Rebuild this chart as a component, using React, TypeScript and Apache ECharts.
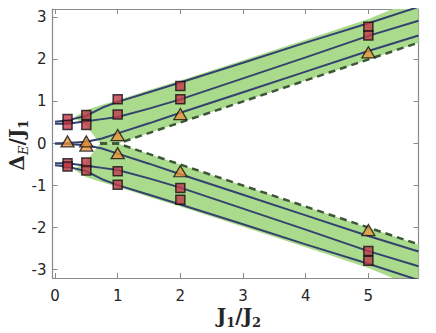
import React, { useEffect, useRef } from "react";
import * as echarts from "echarts";

// ---- data ----
const xTicks = [0, 1, 2, 3, 4, 5];
const yTicks = [-3, -2, -1, 0, 1, 2, 3];

const lineX = [0, 0.2, 0.5, 0.75, 1, 1.5, 2, 3, 4, 5, 5.8];
const lineA = [0.52, 0.55, 0.66, 0.85, 0.99, 1.22, 1.45, 1.92, 2.4, 2.86, 3.25];
const lineB = [0.47, 0.47, 0.53, 0.58, 0.63, 0.83, 1.05, 1.55, 2.05, 2.56, 2.92];
const lineC = [0, 0.01, 0.04, 0.12, 0.24, 0.48, 0.73, 1.22, 1.71, 2.2, 2.57];

const dashX = [0.72, 1, 5.8];
const dashY = [0, 0, 2.4];

const bandX = [0.3, 0.5, 0.75, 1, 1.5, 2, 3, 4, 5, 5.39, 5.8, 5.8, 1, 0.72, 0.5];
const bandY = [0.62, 0.8, 0.92, 1.03, 1.27, 1.5, 1.98, 2.47, 2.96, 3.2, 3.2, 2.4, 0, 0, 0.42];

const sqX = [0.2, 0.2, 0.5, 0.5, 1, 1, 2, 2, 5, 5, 0.2, 0.2, 0.5, 0.5, 1, 1, 2, 2, 5, 5];
const sqY = [0.58, 0.44, 0.68, 0.44, 1.05, 0.69, 1.37, 1.05, 2.78, 2.57,
  -0.47, -0.55, -0.45, -0.64, -0.66, -0.98, -1.06, -1.34, -2.56, -2.79];

const triX = [0.2, 0.5, 0.5, 1, 1, 2, 2, 5, 5];
const triY = [0.05, -0.05, 0.05, 0.2, -0.23, 0.7, -0.66, 2.17, -2.06];

const pairs = (xs: number[], ys: number[], sign = 1) => xs.map((x, i) => [x, sign * ys[i]]);

const LINE_COLOR = "#34426f";
const DASH_COLOR = "#3e5638";
const BAND_COLOR = "#aadb8c";
const AXIS_COLOR = "#8a8a8a";
const TEXT_COLOR = "#262626";

export default function App() {
  const ref = useRef<HTMLDivElement>(null);
  useEffect(() => {
    if (!ref.current) return;
    const chart = echarts.init(ref.current, undefined, { renderer: "svg" });

    const bands = [pairs(bandX, bandY, 1), pairs(bandX, bandY, -1)];

    const solid = (data: number[][]) => ({
      type: "line",
      data,
      showSymbol: false,
      symbol: "none",
      smooth: false,
      lineStyle: { color: LINE_COLOR, width: 2 },
      z: 3,
    });
    const dashed = (data: number[][]) => ({
      type: "line",
      data,
      symbol: "none",
      lineStyle: { color: DASH_COLOR, width: 2.5, type: [7, 5] },
      z: 4,
    });

    const axisCommon = {
      axisLine: { show: true, onZero: false, lineStyle: { color: AXIS_COLOR, width: 1.2 } },
      splitLine: { show: false },
    };

    const titleRich = {
      b: { fontFamily: "DejaVu Serif", fontWeight: "bold", fontSize: 20, lineHeight: 26, fill: TEXT_COLOR },
      s: { fontFamily: "DejaVu Serif", fontWeight: "bold", fontSize: 13, lineHeight: 13, fill: TEXT_COLOR, verticalAlign: "bottom" },
      i: { fontFamily: "DejaVu Serif", fontStyle: "italic", fontSize: 13, lineHeight: 13, fill: TEXT_COLOR, verticalAlign: "bottom" },
    };

    chart.setOption({
      animation: false,
      grid: { left: 52.5, right: 17.5, top: 9, bottom: 55, containLabel: false },
      xAxis: [
        {
          type: "value",
          min: -0.04,
          max: 5.8,
          position: "bottom",
          ...axisCommon,
          axisTick: { show: true, inside: true, length: 5, customValues: xTicks, lineStyle: { color: AXIS_COLOR } },
          axisLabel: {
            customValues: xTicks,
            color: TEXT_COLOR,
            fontSize: 15,
            fontFamily: "DejaVu Sans",
            margin: 10,
          },
        },
        {
          type: "value",
          min: -0.04,
          max: 5.8,
          position: "top",
          ...axisCommon,
          axisTick: { show: true, inside: true, length: 5, customValues: xTicks, lineStyle: { color: AXIS_COLOR } },
          axisLabel: { show: false },
        },
      ],
      yAxis: [
        {
          type: "value",
          min: -3.2,
          max: 3.2,
          position: "left",
          ...axisCommon,
          axisTick: { show: true, inside: true, length: 5, customValues: yTicks, lineStyle: { color: AXIS_COLOR } },
          axisLabel: {
            customValues: yTicks,
            color: TEXT_COLOR,
            fontSize: 15,
            fontFamily: "DejaVu Sans",
            margin: 6,
            formatter: (v: number) => String(v),
          },
        },
        {
          type: "value",
          min: -3.2,
          max: 3.2,
          position: "right",
          ...axisCommon,
          axisTick: { show: true, inside: true, length: 5, customValues: yTicks, lineStyle: { color: AXIS_COLOR } },
          axisLabel: { show: false },
        },
      ],
      graphic: [
        {
          type: "text",
          x: 239,
          y: 316,
          style: {
            text: "{b|J}{s|1}{b|/J}{s|2}",
            rich: titleRich,
            align: "center",
            verticalAlign: "middle",
          },
        },
        {
          type: "text",
          x: 17,
          y: 145,
          rotation: Math.PI / 2,
          style: {
            text: "{b|Δ}{i|E}{b|/J}{s|1}",
            rich: titleRich,
            align: "center",
            verticalAlign: "middle",
          },
        },
      ],
      series: [
        {
          type: "custom",
          clip: true,
          z: 1,
          data: [[0, 0], [0, 0]],
          renderItem: (params: any, api: any) => {
            const pts = bands[params.dataIndex].map((p) => api.coord(p));
            return { type: "polygon", shape: { points: pts }, style: { fill: BAND_COLOR } };
          },
        },
        solid(pairs(lineX, lineA, 1)),
        solid(pairs(lineX, lineB, 1)),
        solid(pairs(lineX, lineC, 1)),
        solid(pairs(lineX, lineA, -1)),
        solid(pairs(lineX, lineB, -1)),
        solid(pairs(lineX, lineC, -1)),
        dashed(pairs(dashX, dashY, 1)),
        dashed(pairs(dashX, dashY, -1)),
        {
          type: "scatter",
          data: pairs(triX, triY),
          symbol: "triangle",
          symbolSize: [13, 11],
          itemStyle: { color: "#e9953d", borderColor: "#111", borderWidth: 1.3 },
          z: 5,
        },
        {
          type: "scatter",
          data: pairs(sqX, sqY),
          symbol: "rect",
          symbolSize: 9,
          itemStyle: { color: "#c0394b", borderColor: "#111", borderWidth: 1.5 },
          z: 6,
        },
      ],
    });
    return () => chart.dispose();
  }, []);
  return (
    <div
      ref={ref}
      style={{ position: "fixed", left: 0, top: 0, width: 436, height: 333, background: "#fff" }}
    />
  );
}
